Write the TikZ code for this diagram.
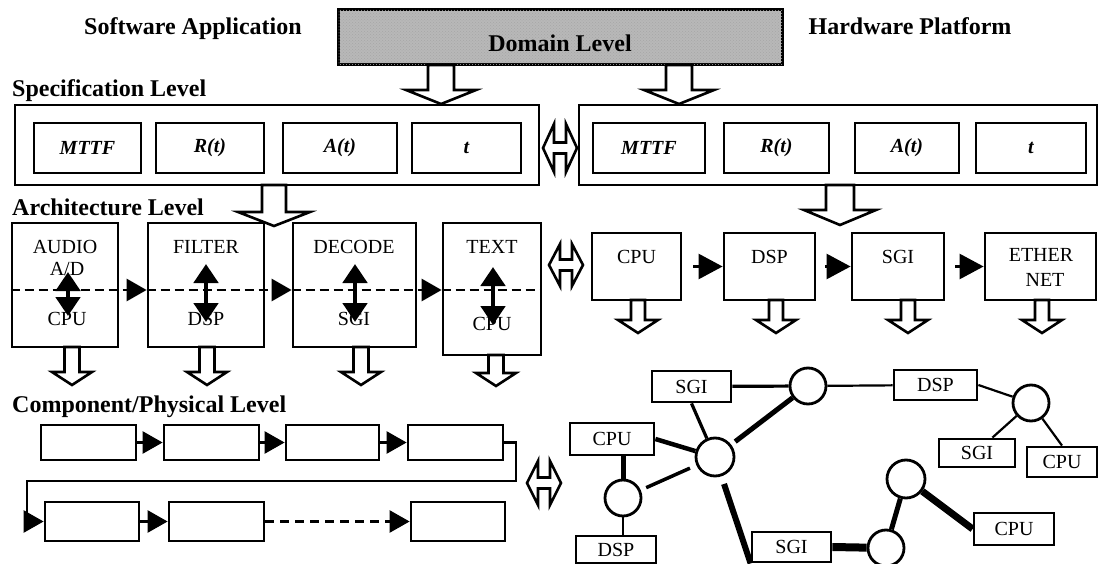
\documentclass[tikz,border=0pt]{standalone}
\usepackage{fontspec}
\setmainfont{Liberation Serif}
\usetikzlibrary{arrows.meta,patterns}

\tikzset{
  % hollow block arrow pointing down: shaft half width / head half width / shaft length / head length
  pics/hdown/.style args={#1/#2/#3/#4}{code={
    \draw[hollow] (-#1,0) -- (-#1,#3) -- (-#2,#3) -- (0,#3+#4) -- (#2,#3) -- (#1,#3) -- (#1,0) -- cycle;}},
  % hollow double-headed block arrow: total width / head height / shaft thickness / head length
  pics/hboth/.style args={#1/#2/#3/#4}{code={
    \draw[hollow] (-#1/2,0) -- (-#1/2+#4,-#2/2) -- (-#1/2+#4,-#3/2) -- (#1/2-#4,-#3/2)
      -- (#1/2-#4,-#2/2) -- (#1/2,0) -- (#1/2-#4,#2/2) -- (#1/2-#4,#3/2)
      -- (-#1/2+#4,#3/2) -- (-#1/2+#4,#2/2) -- cycle;}},
}

\begin{document}
\begin{tikzpicture}[x=1pt, y=-1pt,
  box/.style={draw, line width=2.8pt, fill=white, inner sep=0pt},
  wh/.style args={#1/#2}{minimum width=#1pt, minimum height=#2pt},
  head/.style={font=\fontsize{24}{28}\selectfont\bfseries, anchor=base west, inner sep=0pt},
  lbl/.style={font=\fontsize{20}{23}\selectfont, inner sep=0pt},
  spec/.style={box, font=\fontsize{20}{23}\selectfont\bfseries\itshape},
  domainbox/.style={draw, line width=3pt, fill=black!28,
    postaction={pattern=crosshatch dots, pattern color=black!35}},
  hollow/.style={draw, fill=white, line width=2.6pt, line join=miter},
  conn/.style={line width=2.6pt},
  tri/.style={-{Triangle[width=22pt,length=20pt]}},
  trib/.style={-{Triangle[width=25pt,length=24pt]}},
  dashline/.style={line width=2.8pt, dash pattern=on 9pt off 5pt},
  vdbl/.style={line width=4.8pt, {Triangle[width=24pt,length=19pt]}-{Triangle[width=24pt,length=19pt]}},
  hub/.style={draw, circle, line width=2.8pt, fill=white, inner sep=0pt},
  netbox/.style={box, font=\fontsize{20}{23}\selectfont},
]
\fill[white] (0,0) rectangle (1100,564);
\useasboundingbox (0,0) rectangle (1100,564);

% ---------------- titles and domain level ----------------
\node[head, anchor=base] (swapp) at (193,35) {Software Application};
\node[head, anchor=base] (hwplat) at (910,35) {Hardware Platform};
\node[domainbox, wh=444/55] (domain) at (560,37.5) {};
\node[head, anchor=base] (domaint) at (560,52) {Domain Level};

% ---------------- specification level ----------------
\node[head] (speclvl) at (12,97) {Specification Level};
\node[box, wh=524/80] (specL) at (277,145) {};
\node[box, wh=518/80] (specR) at (838,145) {};
\node[spec, wh=107/50] (mttfL) at (87.5,148) {MTTF};
\node[spec, wh=108/50] (rL)    at (210,148)  {R(t)};
\node[spec, wh=114/50] (aL)    at (340,148)  {A(t)};
\node[spec, wh=109/50] (tL)    at (466.5,148) {t};
\node[spec, wh=112/50] (mttfR) at (649,148)  {MTTF};
\node[spec, wh=105/50] (rR)    at (776.5,148) {R(t)};
\node[spec, wh=104/50] (aR)    at (907,148)  {A(t)};
\node[spec, wh=110/50] (tR)    at (1031,148) {t};

\pic at (441,65) {hdown=13/35/25/14};
\pic at (679,65) {hdown=13/35/25/14};
\pic at (560,148) {hboth=34/48/11/11};

% ---------------- architecture level ----------------
\node[head] (archlvl) at (12,215) {Architecture Level};
\node[box, wh=106/124] (audio)  at (65,285)    {};
\node[box, wh=116/124] (filter) at (206,285)   {};
\node[box, wh=123/124] (decode) at (354.5,285) {};
\node[box, wh=98/132]  (textb)  at (492,289)   {};

\node[lbl] (audiot)  at (65,247)  {AUDIO};
\node[lbl] (adt)     at (67,269)  {A/D};
\node[lbl] (cpuat)   at (67,319)  {CPU};
\node[lbl] (filtert) at (206,247) {FILTER};
\node[lbl] (dspat)   at (206,319) {DSP};
\node[lbl] (decodet) at (354,247) {DECODE};
\node[lbl] (sgiat)   at (354,319) {SGI};
\node[lbl] (textt)   at (492,247) {TEXT};
\node[lbl] (cpubt)   at (492,324) {CPU};

% data flow through the tasks
\coordinate (dashy) at (0,290);
\draw[dashline, tri] (audio.west |- dashy) -- (filter.west |- dashy);
\draw[dashline, tri] (filter.west |- dashy) -- (decode.west |- dashy);
\draw[dashline, tri] (decode.west |- dashy) -- (textb.west |- dashy);
\draw[dashline] (textb.west |- dashy) -- (textb.east |- dashy);

% task to processor mapping
\coordinate (m1a) at (68,272);  \coordinate (m1b) at (68,316);
\coordinate (m2a) at (206,264); \coordinate (m2b) at (206,322);
\coordinate (m3a) at (355,264); \coordinate (m3b) at (355,322);
\coordinate (m4a) at (493,267); \coordinate (m4b) at (493,325);
\draw[vdbl] (m1a) -- (m1b);
\draw[vdbl] (m2a) -- (m2b);
\draw[vdbl] (m3a) -- (m3b);
\draw[vdbl] (m4a) -- (m4b);

% hardware architecture
\node[box, wh=89/67]  (cpuR) at (636.5,266.5) {};
\node[box, wh=91/67]  (dspR) at (769.5,266.5) {};
\node[box, wh=92/67]  (sgiR) at (898,266.5)   {};
\node[box, wh=111/67] (ethR) at (1040.5,266.5) {};
\node[lbl] (cpuRt) at (636.5,257) {CPU};
\node[lbl] (dspRt) at (769.5,257) {DSP};
\node[lbl] (sgiRt) at (898,257)   {SGI};
\node[lbl, align=center, font=\fontsize{20}{25}\selectfont] (ethRt) at (1041,267) {ETHER\\\hspace*{8pt}NET};
\draw[conn, trib, shorten <=11pt] (cpuR.east) -- (dspR.west);
\draw[conn, trib, shorten <=9pt]  (dspR.east) -- (sgiR.west);
\draw[conn, trib, shorten <=10pt] (sgiR.east) -- (ethR.west);

\pic at (274,185) {hdown=12/36/27/14};
\pic at (840,185) {hdown=14/36/25/15};
\pic at (566,265) {hboth=34/42/11/11};

\pic at (72,347)  {hdown=7.5/20/25/13};
\pic at (207,347) {hdown=7.5/20/25/13};
\pic at (361,347) {hdown=7.5/20/25/13};
\pic at (496,355) {hdown=7.5/20/18/13};
\pic at (638,300)  {hdown=7/20/20/13};
\pic at (776,300)  {hdown=7/20/20/13};
\pic at (908,300)  {hdown=7/20/20/13};
\pic at (1042,300) {hdown=7/20/20/13};

% ---------------- component / physical level ----------------
\node[head] (complvl) at (12,412) {Component/Physical Level};
\node[box, wh=95/35] (b1) at (88.5,442.5)  {};
\node[box, wh=95/35] (b2) at (211.5,442.5) {};
\node[box, wh=93/35] (b3) at (332.5,442.5) {};
\node[box, wh=95/35] (b4) at (455.5,442.5) {};
\node[box, wh=94/39] (b5) at (92,521.5)    {};
\node[box, wh=95/39] (b6) at (216.5,521.5) {};
\node[box, wh=94/39] (b7) at (458,521.5)   {};
\coordinate (bendR) at (516,481);
\coordinate (bendL) at (27,481);
\draw[conn, tri] (b1.east) -- (b2.west);
\draw[conn, tri] (b2.east) -- (b3.west);
\draw[conn, tri] (b3.east) -- (b4.west);
\draw[conn, tri] (b4.east) -| (bendR) -- (bendL) |- (b5.west);
\draw[conn, tri] (b5.east) -- (b6.west);
\draw[conn, tri, dash pattern=on 9pt off 6pt] (b6.east) -- (b7.west);
\pic at (544,483) {hboth=34/44/11/11};

% physical network
\node[netbox, wh=79/31] (sgiA) at (691.5,386.5) {SGI};
\node[hub, minimum size=36pt] (c1) at (808,386) {};
\node[netbox, wh=83/30] (dspA) at (935.5,385) {DSP};
\node[hub, minimum size=36pt] (c2) at (1031,403) {};
\node[netbox, wh=76/28] (sgiB) at (977,453) {SGI};
\node[netbox, wh=70/30] (cpuB) at (1062,462) {CPU};
\node[netbox, wh=84/32] (cpuA) at (612,439) {CPU};
\node[hub, minimum size=38pt] (c3) at (715,457) {};
\node[hub, minimum size=36pt] (c4) at (623,498) {};
\node[netbox, wh=80/27] (dspB) at (616,549.5) {DSP};
\node[netbox, wh=79/30] (sgiC) at (791.5,547) {SGI};
\node[hub, minimum size=36pt] (c5) at (886,548) {};
\node[hub, minimum size=38pt] (c6) at (906,479) {};
\node[netbox, wh=80/32] (cpuC) at (1014,529) {CPU};

\draw[line width=3.2pt] (sgiA) -- (c1);
\draw[line width=2.2pt] (c1) -- (dspA);
\draw[line width=2.2pt] (dspA.east) -- (c2);
\draw[line width=2.2pt] (c2) -- (sgiB.45);
\draw[line width=2.2pt] (c2) -- (cpuB.north);
\draw[line width=3.2pt] (sgiA.south) -- (c3);
\draw[line width=4.5pt] (cpuA.east) -- (c3);
\draw[line width=5pt, shorten <=5pt] (c3) -- (c1);
\draw[line width=3.5pt, shorten <=6pt, shorten >=7pt] (c4) -- (c3);
\draw[line width=6pt, shorten <=8pt] (c3) -- (sgiC.south west);
\draw[line width=5pt] (c4 |- cpuA.south) -- (c4);
\draw[line width=2.2pt] (c4) -- (c4 |- dspB.north);
\draw[line width=8pt] (sgiC.east) -- (c5);
\draw[line width=5pt] (c5) -- (c6);
\draw[line width=7pt] (c6) -- (cpuC.west);
\end{tikzpicture}
\end{document}
